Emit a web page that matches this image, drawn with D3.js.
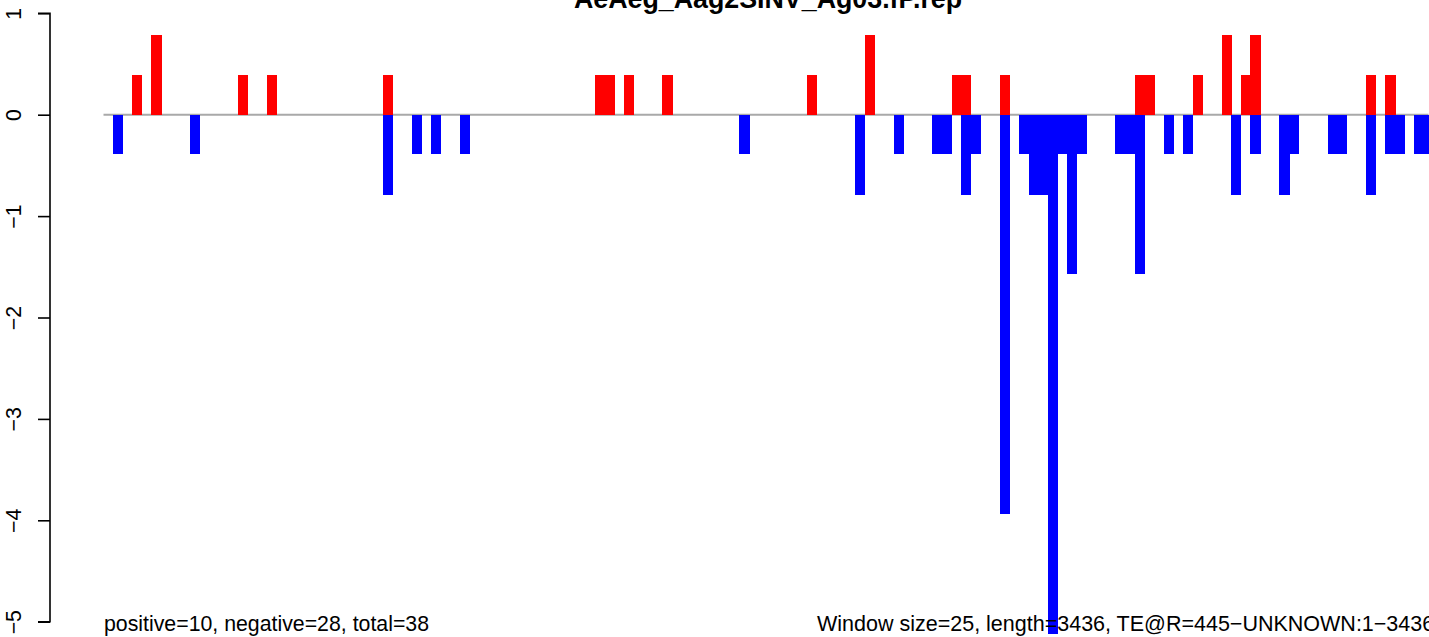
<!DOCTYPE html>
<html>
<head>
<meta charset="utf-8">
<script src="https://cdn.jsdelivr.net/npm/d3@7"></script>
<style>
  html, body { margin: 0; padding: 0; background: #fff; }
  svg { display: block; }
  text { font-family: "Liberation Sans", Arial, Helvetica, sans-serif; }
</style>
</head>
<body>
<svg id="chart" width="1429" height="637"></svg>
<script>
// ---- data ----
const title = "AeAeg_Aag2SINV_Ag03.fP.rep";
const windowSize = 25;
const seqLength = 3436;
const leftNote = "positive=10, negative=28, total=38";
const rightNote = "Window size=25, length=3436, TE@R=445\u2212UNKNOWN:1\u22123436";
const yTicks = [-5, -4, -3, -2, -1, 0, 1];

// window indices (0-based) and values of the sense (positive) series
const posWindows = [3, 5, 14, 17, 29, 51, 52, 54, 58, 73, 79, 88, 89, 93, 107, 108, 113, 116, 118, 119, 131, 133];
const posValues  = [0.39, 0.79, 0.39, 0.39, 0.39, 0.39, 0.39, 0.39, 0.39, 0.39, 0.79, 0.39, 0.39, 0.39, 0.39, 0.39, 0.39, 0.79, 0.39, 0.79, 0.39, 0.39];

// window indices (0-based) and values of the antisense (negative) series
const negWindows = [1, 9, 29, 32, 34, 37, 66, 78, 82, 86, 87, 89, 90, 93, 95, 96, 97, 98, 99, 100, 101, 105, 106, 107, 110, 112, 117, 119, 122, 123, 127, 128, 131, 133, 134, 136, 137];
const negValues  = [-0.39, -0.39, -0.79, -0.39, -0.39, -0.39, -0.39, -0.79, -0.39, -0.39, -0.39, -0.79, -0.39, -3.94, -0.39, -0.79, -0.79, -5.12, -0.39, -1.57, -0.39, -0.39, -0.39, -1.57, -0.39, -0.39, -0.79, -0.39, -0.79, -0.39, -0.39, -0.39, -0.79, -0.39, -0.39, -0.39, -0.39];

// ---- drawing ----
const svg = d3.select("#chart");
svg.append("rect").attr("width", 1429).attr("height", 637).attr("fill", "#fff");

const x = d3.scaleLinear().domain([0, seqLength]).range([103.5, 1428.5]);
const y = d3.scaleLinear().domain([-5, 1]).range([621.7, 13.3]);
const barW = x(windowSize + 1.5) - x(0);
const center = k => x(k * windowSize + windowSize / 2);

// zero line
svg.append("line")
  .attr("x1", x(0)).attr("x2", x(seqLength))
  .attr("y1", y(0)).attr("y2", y(0))
  .attr("stroke", "#a9a9a9").attr("stroke-width", 2);

const pos = posWindows.map((k, i) => ({k, v: posValues[i]}));
const neg = negWindows.map((k, i) => ({k, v: negValues[i]}));

svg.append("g").attr("shape-rendering", "crispEdges")
  .selectAll("rect").data(pos).join("rect")
  .attr("x", d => center(d.k) - barW / 2)
  .attr("width", barW)
  .attr("y", d => y(d.v))
  .attr("height", d => y(0) - y(d.v))
  .attr("fill", "#ff0000");

svg.append("g").attr("shape-rendering", "crispEdges")
  .selectAll("rect").data(neg).join("rect")
  .attr("x", d => center(d.k) - barW / 2)
  .attr("width", barW)
  .attr("y", y(0))
  .attr("height", d => y(d.v) - y(0))
  .attr("fill", "#0000ff");

// y axis (R style)
const yAxis = d3.axisLeft(y).tickValues(yTicks).tickSize(12).tickPadding(0)
  .tickFormat(d => d < 0 ? "\u2212" + Math.abs(d) : String(d));
const ga = svg.append("g").attr("transform", "translate(50,0)").call(yAxis);
ga.select(".domain").attr("stroke", "#000").attr("stroke-width", 1.6)
  .attr("d", `M-12,${y(1)}H0V${y(-5)}H-12`);
ga.selectAll(".tick line").attr("stroke", "#000").attr("stroke-width", 1.6);
ga.selectAll(".tick text")
  .attr("x", null).attr("dy", null)
  .attr("text-anchor", "middle")
  .attr("font-size", 21.3)
  .attr("fill", "#000")
  .attr("transform", "translate(-29,0) rotate(-90)");

// title
svg.append("text")
  .attr("x", 768).attr("y", 8)
  .attr("text-anchor", "middle")
  .attr("font-size", 26.8).attr("font-weight", "bold")
  .text(title);

// footnotes
svg.append("text").attr("x", 104).attr("y", 631)
  .attr("font-size", 21.3).text(leftNote);
svg.append("text").attr("x", 817).attr("y", 631)
  .attr("font-size", 21.5).text(rightNote);
</script>
</body>
</html>
